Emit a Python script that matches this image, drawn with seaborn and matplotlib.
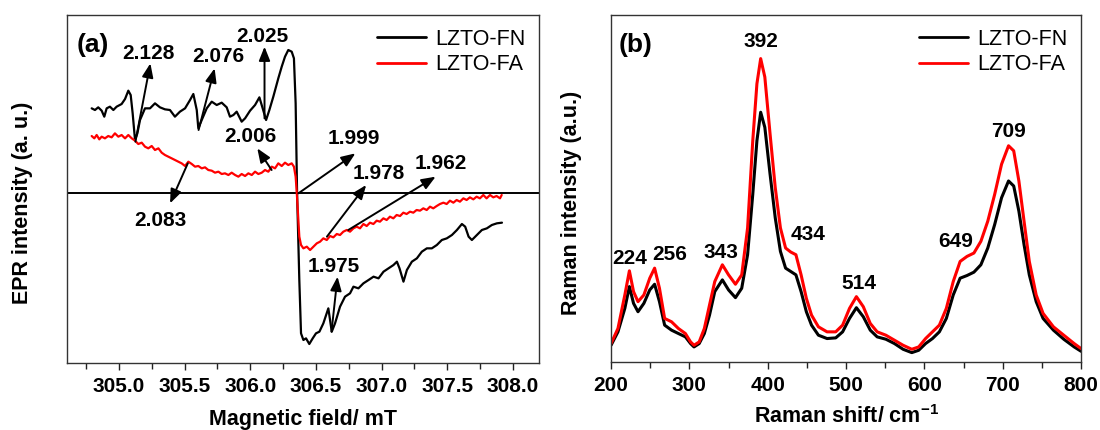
import numpy as np
import pandas as pd
import seaborn as sns
import matplotlib
matplotlib.use("Agg")
import matplotlib.pyplot as plt
from matplotlib.ticker import MultipleLocator, FormatStrFormatter
from matplotlib.lines import Line2D

# ---------------- EPR spectra (panel a) ----------------
epr_fn_field = [
    304.792, 304.817, 304.842, 304.868, 304.888, 304.906, 304.931, 304.957, 304.982, 305.020,
    305.046, 305.071, 305.089, 305.104, 305.122, 305.140, 305.160, 305.198, 305.236, 305.274,
    305.312, 305.350, 305.388, 305.426, 305.464, 305.503, 305.541, 305.566, 305.592, 305.604,
    305.630, 305.668, 305.706, 305.744, 305.782, 305.820, 305.845, 305.871, 305.896, 305.934,
    305.960, 305.998, 306.036, 306.069, 306.094, 306.120, 306.145, 306.175, 306.213, 306.239,
    306.264, 306.289, 306.315, 306.332, 306.345, 306.356, 306.373, 306.386, 306.404, 306.424,
    306.449, 306.475, 306.500, 306.526, 306.556, 306.594, 306.607, 306.620, 306.645, 306.683,
    306.721, 306.759, 306.785, 306.823, 306.861, 306.900, 306.938, 306.976, 307.014, 307.052,
    307.090, 307.116, 307.136, 307.166, 307.192, 307.230, 307.268, 307.306, 307.344, 307.382,
    307.420, 307.458, 307.496, 307.535, 307.573, 307.611, 307.636, 307.662, 307.687, 307.725,
    307.763, 307.801, 307.839, 307.877, 307.916,
]
epr_fn_signal = [
    25.5, 25.0, 25.8, 24.8, 23.0, 25.5, 26.0, 25.0, 26.0, 26.8,
    28.3, 30.8, 29.5, 24.0, 16.0, 18.0, 22.0, 25.5, 25.5, 27.0,
    25.8, 25.2, 25.0, 23.0, 24.5, 25.5, 28.0, 29.8, 25.0, 19.5,
    22.0, 25.5, 27.5, 26.5, 27.2, 25.8, 23.0, 23.5, 24.5, 21.5,
    22.5, 24.8, 26.5, 28.8, 25.5, 22.0, 25.0, 29.0, 34.5, 38.0,
    41.0, 43.0, 42.5, 40.5, 27.0, 0.0, -26.0, -42.0, -44.0, -43.5,
    -45.2, -43.5, -42.0, -41.5, -39.0, -34.5, -38.0, -41.5, -39.0, -34.0,
    -31.0, -30.0, -28.0, -28.5, -27.0, -26.0, -25.0, -25.5, -23.5, -22.5,
    -21.5, -20.5, -22.5, -26.5, -23.0, -20.5, -19.5, -17.5, -16.5, -16.5,
    -15.5, -14.0, -13.5, -12.5, -11.0, -9.2, -10.0, -13.0, -14.0, -12.5,
    -11.0, -10.5, -9.5, -9.0, -8.8,
]

epr_fa_field = [
    304.792, 304.812, 304.830, 304.850, 304.868, 304.893, 304.918, 304.944, 304.969, 304.995,
    305.020, 305.046, 305.071, 305.097, 305.122, 305.147, 305.173, 305.198, 305.223, 305.249,
    305.274, 305.300, 305.325, 305.350, 305.376, 305.401, 305.426, 305.452, 305.477, 305.503,
    305.528, 305.554, 305.579, 305.604, 305.630, 305.655, 305.680, 305.706, 305.731, 305.757,
    305.782, 305.807, 305.833, 305.858, 305.884, 305.909, 305.934, 305.960, 305.985, 306.011,
    306.036, 306.061, 306.087, 306.112, 306.137, 306.163, 306.188, 306.213, 306.239, 306.264,
    306.289, 306.315, 306.332, 306.345, 306.354, 306.366, 306.373, 306.386, 306.404, 306.430,
    306.455, 306.480, 306.506, 306.531, 306.556, 306.582, 306.607, 306.632, 306.658, 306.683,
    306.708, 306.734, 306.759, 306.785, 306.810, 306.835, 306.861, 306.886, 306.911, 306.937,
    306.962, 306.987, 307.013, 307.038, 307.063, 307.089, 307.114, 307.140, 307.165, 307.190,
    307.216, 307.241, 307.266, 307.292, 307.317, 307.343, 307.368, 307.393, 307.419, 307.444,
    307.470, 307.495, 307.520, 307.546, 307.571, 307.596, 307.622, 307.647, 307.672, 307.698,
    307.723, 307.748, 307.774, 307.799, 307.825, 307.850, 307.875, 307.901, 307.914,
]
epr_fa_signal = [
    17.2, 16.5, 17.5, 16.2, 17.0, 16.5, 17.2, 16.8, 18.0, 17.0,
    17.5, 16.5, 17.5, 16.5, 15.8, 14.8, 15.2, 14.0, 13.5, 14.2,
    13.0, 13.5, 12.2, 11.5, 11.0, 10.5, 10.0, 9.5, 9.0, 8.2,
    9.5, 8.8, 8.0, 8.2, 7.5, 7.8, 7.0, 6.8, 6.2, 6.5,
    5.8, 6.0, 5.5, 6.2, 5.5, 5.0, 5.8, 5.2, 6.0, 5.5,
    6.5, 5.8, 6.2, 7.0, 6.5, 8.0, 7.5, 9.0, 8.2, 9.2,
    8.5, 9.0, 8.0, 5.0, 0.0, -8.0, -13.0, -15.5, -16.5, -16.0,
    -17.0, -16.0, -15.0, -14.5, -13.5, -14.0, -12.8, -13.2, -12.2, -12.5,
    -11.5, -11.0, -11.5, -10.5, -10.0, -10.5, -9.2, -9.8, -8.8, -9.2,
    -8.2, -8.5, -7.5, -8.0, -7.0, -7.5, -6.5, -6.8, -5.8, -6.2,
    -5.5, -5.8, -5.0, -5.2, -4.5, -5.0, -4.0, -4.5, -3.8, -3.2,
    -2.8, -3.2, -2.2, -2.8, -2.0, -2.5, -1.5, -2.0, -1.2, -1.8,
    -1.0, -1.5, -0.5, -1.5, -0.5, -1.2, -0.8, -1.5, -0.5,
]

# g-factor callouts: label, text position, arrow tail, arrow head
g_labels = ["2.128", "2.076", "2.025", "2.006", "2.083", "1.999", "1.978", "1.962", "1.975"]
g_text_pos = [(305.226, 42.0), (305.755, 41.0), (306.094, 47.0), (305.999, 17.0), (305.315, -8.0),
              (306.786, 16.5), (306.976, 6.0), (307.452, 9.0), (306.637, -22.0)]
g_arrow_tail = [(305.125, 15.5), (305.606, 19.0), (306.108, 22.5), (306.162, 7.0), (305.524, 9.0),
                (306.366, 0.0), (306.583, -13.0), (306.746, -11.0), (306.618, -41.5)]
g_arrow_head = [(305.239, 39.0), (305.728, 37.5), (306.108, 44.0), (306.053, 13.5), (305.389, -3.0),
                (306.800, 12.0), (306.882, 2.5), (307.411, 5.0), (306.664, -25.0)]

# ---------------- Raman spectra (panel b) ----------------
raman_shift = [
    200.0, 208.8, 217.6, 223.4, 228.7, 234.4, 241.9, 249.4, 255.6, 261.8,
    268.4, 277.2, 286.0, 294.9, 301.5, 305.9, 312.5, 319.1, 325.7, 332.4,
    342.1, 350.0, 358.8, 366.8, 374.3, 380.9, 386.2, 391.0, 396.3, 403.0,
    409.6, 416.2, 422.8, 429.4, 436.0, 442.6, 449.3, 455.9, 464.7, 475.7,
    486.8, 495.6, 504.4, 513.2, 522.0, 530.9, 539.7, 550.8, 561.8, 572.8,
    583.9, 592.7, 601.5, 610.3, 619.1, 628.0, 636.8, 645.6, 654.4, 663.2,
    672.1, 680.9, 689.7, 698.5, 707.4, 714.0, 720.6, 727.2, 733.9, 742.7,
    751.5, 764.7, 777.9, 791.2, 800.0,
]
raman_fn = [
    5.0, 9.0, 16.0, 22.5, 17.5, 15.0, 17.5, 21.5, 23.2, 18.0,
    11.0, 9.5, 8.5, 7.5, 5.5, 4.5, 5.5, 8.5, 14.0, 21.0,
    24.5, 21.5, 19.2, 22.0, 32.0, 50.0, 66.0, 74.5, 70.0, 56.0,
    43.0, 33.0, 28.0, 27.0, 26.0, 21.0, 15.0, 11.0, 8.0, 7.0,
    7.2, 9.0, 13.0, 16.2, 13.5, 9.5, 7.5, 6.8, 5.5, 3.8,
    2.8, 3.5, 5.5, 7.0, 9.0, 13.0, 20.0, 25.0, 25.8, 26.8,
    29.0, 34.0, 41.0, 49.0, 54.0, 52.5, 45.0, 35.0, 26.0, 18.0,
    13.0, 9.5, 6.8, 4.5, 3.2,
]
raman_fa = [
    5.5, 10.0, 20.0, 27.2, 21.0, 18.0, 20.0, 25.0, 28.0, 22.0,
    13.0, 12.0, 10.0, 8.5, 6.0, 5.0, 6.0, 10.0, 17.0, 24.0,
    29.0, 26.0, 23.2, 26.0, 40.0, 66.0, 83.0, 90.5, 85.0, 68.0,
    52.0, 40.0, 34.0, 32.8, 32.0, 26.0, 19.0, 14.0, 10.5, 9.0,
    9.0, 11.0, 16.0, 19.5, 16.5, 11.5, 9.0, 8.0, 6.5, 5.0,
    3.8, 4.5, 7.0, 9.0, 11.0, 16.0, 24.0, 30.0, 31.5, 32.5,
    36.0, 42.0, 50.0, 59.0, 64.5, 63.0, 54.0, 42.0, 30.0, 20.0,
    14.5, 10.5, 8.0, 5.5, 4.0,
]
peak_labels = ["224", "256", "343", "392", "434", "514", "649", "709"]
peak_label_pos = [(224.3, 31.0), (275.0, 32.0), (340.3, 32.8), (391.9, 95.5),
                  (451.5, 38.0), (516.8, 23.5), (640.3, 36.0), (707.4, 68.7)]

series_names = ["LZTO-FN", "LZTO-FA"]
series_colors = {"LZTO-FN": "#000000", "LZTO-FA": "#ff0000"}

# ---------------- style ----------------
sns.set_theme(style="ticks")
plt.rcParams["font.family"] = ["Liberation Sans", "DejaVu Sans"]
plt.rcParams["mathtext.fontset"] = "custom"
plt.rcParams["mathtext.bf"] = "Liberation Sans:bold"
plt.rcParams["mathtext.rm"] = "Liberation Sans"
plt.rcParams["axes.linewidth"] = 1.0
plt.rcParams["axes.edgecolor"] = "#333333"
plt.rcParams["text.color"] = "black"
plt.rcParams["axes.labelcolor"] = "black"
plt.rcParams["xtick.color"] = "#222222"
plt.rcParams["xtick.labelcolor"] = "black"
plt.rcParams["lines.solid_joinstyle"] = "round"

fig = plt.figure(figsize=(11, 4.3), dpi=100)
ax_a = fig.add_axes([0.0609, 0.1558, 0.4291, 0.8093])
ax_b = fig.add_axes([0.5555, 0.1581, 0.4273, 0.8070])

epr_df = pd.concat([
    pd.DataFrame({"field": epr_fn_field, "signal": epr_fn_signal, "sample": series_names[0]}),
    pd.DataFrame({"field": epr_fa_field, "signal": epr_fa_signal, "sample": series_names[1]}),
])
raman_df = pd.concat([
    pd.DataFrame({"shift": raman_shift, "intensity": raman_fn, "sample": series_names[0]}),
    pd.DataFrame({"shift": raman_shift, "intensity": raman_fa, "sample": series_names[1]}),
])

ANNOT_SIZE = 15
TICK_SIZE = 15
LABEL_SIZE = 15.5

# ---- panel (a): EPR ----
ax_a.axhline(0, color="black", lw=1.4, zorder=1)
sns.lineplot(data=epr_df, x="field", y="signal", hue="sample", palette=series_colors,
             estimator=None, sort=False, lw=1.6, legend=False, ax=ax_a, zorder=2)
for lab, tpos, tail, head in zip(g_labels, g_text_pos, g_arrow_tail, g_arrow_head):
    ax_a.annotate("", xy=head, xytext=tail,
                  arrowprops=dict(arrowstyle="-|>,head_length=0.7,head_width=0.28",
                                  color="black", lw=1.4, shrinkA=0, shrinkB=0))
    ax_a.text(*tpos, lab, ha="center", va="center", fontsize=ANNOT_SIZE, fontweight="bold")
ax_a.set_xlim(304.604, 308.198)
ax_a.set_ylim(-50.9, 53.5)
ax_a.xaxis.set_major_locator(MultipleLocator(0.5))
ax_a.xaxis.set_minor_locator(MultipleLocator(0.25))
ax_a.xaxis.set_major_formatter(FormatStrFormatter("%.1f"))
ax_a.set_xlabel("Magnetic field/ mT", fontsize=LABEL_SIZE, fontweight="bold")
ax_a.set_ylabel("EPR intensity (a. u.)", fontsize=LABEL_SIZE, fontweight="bold")
ax_a.xaxis.set_label_coords(0.5, -0.132)
ax_a.yaxis.set_label_coords(-0.072, 0.46)
ax_a.text(0.055, 0.914, "(a)", transform=ax_a.transAxes, ha="center", va="center",
          fontsize=19, fontweight="bold")

# ---- panel (b): Raman ----
sns.lineplot(data=raman_df, x="shift", y="intensity", hue="sample", palette=series_colors,
             estimator=None, sort=False, lw=2.2, legend=False, ax=ax_b)
for lab, pos in zip(peak_labels, peak_label_pos):
    ax_b.text(*pos, lab, ha="center", va="center", fontsize=ANNOT_SIZE, fontweight="bold")
ax_b.set_xlim(200, 800)
ax_b.set_ylim(0, 103.5)
ax_b.xaxis.set_major_locator(MultipleLocator(100))
ax_b.xaxis.set_minor_locator(MultipleLocator(50))
ax_b.set_xlabel("Raman shift/ cm$^{\\mathbf{-1}}$", fontsize=LABEL_SIZE, fontweight="bold")
ax_b.set_ylabel("Raman intensity (a.u.)", fontsize=LABEL_SIZE, fontweight="bold")
ax_b.xaxis.set_label_coords(0.5, -0.125)
ax_b.yaxis.set_label_coords(-0.062, 0.46)
ax_b.text(0.053, 0.914, "(b)", transform=ax_b.transAxes, ha="center", va="center",
          fontsize=19, fontweight="bold")

for ax in (ax_a, ax_b):
    ax.set_yticks([])
    ax.tick_params(axis="x", which="major", direction="out", length=5, width=1.0,
                   pad=5, labelsize=TICK_SIZE)
    ax.tick_params(axis="x", which="minor", direction="out", length=4, width=1.0)
    for t in ax.get_xticklabels():
        t.set_fontweight("bold")
    for s in ax.spines.values():
        s.set_visible(True)
    handles = [Line2D([], [], color=series_colors[n], lw=2.0) for n in series_names]
    ax.legend(handles, series_names, loc="upper right", bbox_to_anchor=(1.0, 1.0),
              frameon=False, fontsize=15.5, handlelength=2.3, handletextpad=0.4,
              labelspacing=0.2, borderaxespad=0.25)

fig.savefig("out.png", dpi=100, facecolor="white")
